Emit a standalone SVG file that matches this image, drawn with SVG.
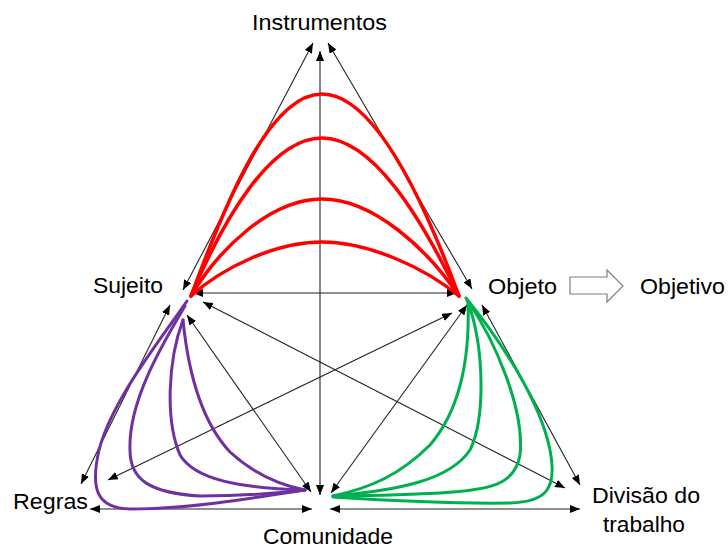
<svg xmlns="http://www.w3.org/2000/svg" width="728" height="549" viewBox="0 0 728 549">
<style>
.lbl{font-family:"Liberation Sans",Arial,sans-serif;font-size:22px;fill:#000}
.ln{stroke:#222;stroke-width:1.1;fill:none;marker-start:url(#ah);marker-end:url(#ah)}
.red{stroke:#ff0000;stroke-width:3.5;fill:none;stroke-linecap:round}
.pur{stroke:#7030a0;stroke-width:3;fill:none;stroke-linecap:round}
.grn{stroke:#00b050;stroke-width:3;fill:none;stroke-linecap:round}
</style>
<defs>
<marker id="ah" viewBox="0 0 10 8" refX="10" refY="4" markerWidth="10" markerHeight="8" markerUnits="userSpaceOnUse" orient="auto-start-reverse">
<path d="M0,0 L10,4 L0,8 z" fill="#000"/>
</marker>
</defs>
<rect width="728" height="549" fill="#fff"/>
<g id="connectors">
<line class="ln" x1="183" y1="290" x2="313" y2="43"/>
<line class="ln" x1="472" y1="289" x2="328" y2="43"/>
<line class="ln" x1="320" y1="495" x2="320" y2="51"/>
<line class="ln" x1="193" y1="293" x2="457" y2="293"/>
<line class="ln" x1="170" y1="305" x2="81" y2="484"/>
<line class="ln" x1="108" y1="480" x2="452" y2="313"/>
<line class="ln" x1="203" y1="302" x2="565" y2="488"/>
<line class="ln" x1="187" y1="315" x2="311" y2="492"/>
<line class="ln" x1="467" y1="305" x2="331" y2="493"/>
<line class="ln" x1="482" y1="305" x2="580" y2="485"/>
<line class="ln" x1="90" y1="509" x2="312" y2="509"/>
<line class="ln" x1="330" y1="509" x2="580" y2="509"/>
<g id="red-curves">
<path class="red" d="M191,296 C230,190 272,94 322,94 C372,94 420,190 459,296"/>
<path class="red" d="M191,296 C225,215 272,138 322,138 C372,138 420,215 459,296"/>
<path class="red" d="M191,296 C218,250 270,199 322,199 C374,199 428,250 459,296"/>
<path class="red" d="M191,296 C222,268 275,242 322,242 C369,242 425,268 459,296"/>
</g>
<g id="purple-curves">
<path class="pur" d="M187,301 C160,340 112,400 99,450 C90,490 97,508 130,509 C190,509 260,497 305,490"/>
<path class="pur" d="M185,306 C165,340 128,400 130,450 C130,480 150,493 200,496 C240,496 280,493 305,490"/>
<path class="pur" d="M183,320 C168,360 165,420 180,455 C195,480 240,488 305,490"/>
<path class="pur" d="M183,320 C188,370 200,420 230,452 C255,475 280,485 305,490"/>
</g>
<g id="green-curves">
<path class="grn" d="M466,298 C500,340 540,400 550,450 C558,490 545,502 510,503 C450,504 380,500 333,497"/>
<path class="grn" d="M467,300 C495,340 525,410 520,455 C515,485 490,490 440,493 C400,495 360,496 333,496"/>
<path class="grn" d="M468,302 C485,350 485,420 470,450 C450,480 400,490 333,496"/>
<path class="grn" d="M468,302 C470,360 460,410 430,445 C400,475 370,488 333,496"/>
</g>
<polygon id="objetivo-arrow" points="570,277 607,277 607,270 623,286 607,302 607,294 570,294" fill="#fff" stroke="#7f7f7f" stroke-width="1.2"/>
</g>
<g id="instrumentos"><text class="lbl" x="252" y="30" textLength="135" lengthAdjust="spacingAndGlyphs">Instrumentos</text></g>
<g id="sujeito"><text class="lbl" x="93" y="293" textLength="70" lengthAdjust="spacingAndGlyphs">Sujeito</text></g>
<g id="objeto"><text class="lbl" x="488" y="294" textLength="69" lengthAdjust="spacingAndGlyphs">Objeto</text></g>
<g id="objetivo"><text class="lbl" x="640" y="294" textLength="85" lengthAdjust="spacingAndGlyphs">Objetivo</text></g>
<g id="regras"><text class="lbl" x="13" y="509" textLength="75" lengthAdjust="spacingAndGlyphs">Regras</text></g>
<g id="comunidade"><text class="lbl" x="263" y="544" textLength="130" lengthAdjust="spacingAndGlyphs">Comunidade</text></g>
<g id="divisao"><text class="lbl" x="592" y="503" textLength="108" lengthAdjust="spacingAndGlyphs">Divisão do</text><text class="lbl" x="603" y="532" textLength="82" lengthAdjust="spacingAndGlyphs">trabalho</text></g>
</svg>
